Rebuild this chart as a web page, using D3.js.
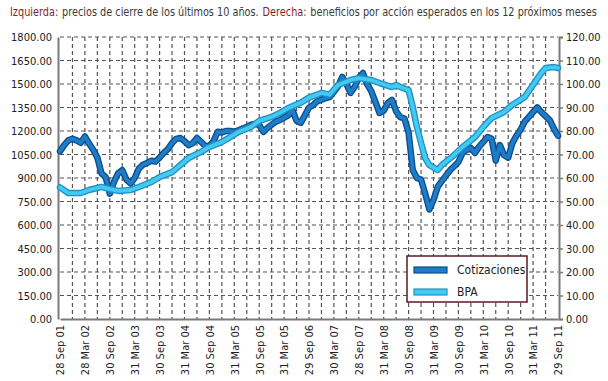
<!DOCTYPE html>
<html><head><meta charset="utf-8">
<script src="https://cdn.jsdelivr.net/npm/d3@7"></script>
<style>
html,body{margin:0;padding:0;background:#fff;}
svg{display:block;}
text{font-family:"DejaVu Sans Condensed","DejaVu Sans",sans-serif;}
</style></head>
<body>
<script>
// ---- data ----
const xLabels = ["28 Sep 01","28 Mar 02","30 Sep 02","31 Mar 03","30 Sep 03","31 Mar 04","30 Sep 04","31 Mar 05","30 Sep 05","31 Mar 05","29 Sep 06","30 Mar 07","28 Sep 07","31 Mar 08","30 Sep 08","31 Mar 09","30 Sep 09","31 Mar 10","30 Sep 10","31 Mar 11","29 Sep 11"];
const leftTicks = [0,150,300,450,600,750,900,1050,1200,1350,1500,1650,1800];
const rightTicks = [0,10,20,30,40,50,60,70,80,90,100,110,120];
// Cotizaciones: monthly closes, Sep 2001 .. Sep 2011 (left axis)
const cotizaciones = [1070,1110,1140,1150,1140,1125,1165,1120,1080,1030,
  930,905,800,875,930,950,890,865,900,960,
  985,996,1010,1005,1030,1060,1085,1123,1150,1155,
  1135,1110,1123,1155,1130,1105,1105,1135,1195,1190,
  1200,1200,1195,1205,1215,1225,1240,1245,1238,1194,
  1220,1240,1260,1270,1285,1300,1334,1265,1252,1300,
  1350,1365,1390,1400,1410,1417,1450,1485,1545,1500,
  1443,1481,1540,1570,1500,1455,1385,1315,1330,1379,
  1398,1325,1289,1280,1190,951,900,890,800,700,
  760,843,880,915,950,975,1002,1060,1079,1091,
  1060,1100,1130,1162,1150,1010,1110,1045,1030,1123,
  1170,1210,1260,1290,1321,1350,1320,1295,1270,1215,1170];
// BPA: expected EPS (right axis), month offsets from Sep 2001
const bpaMonths = [0,2,5,7,10,12,14,17,19,22,24,27,29,31,34,36,39,41,43,46,48,51,53,55,58,60,63,65,67,70,72,75,77,80,81,82,84,85,86,87,88,89,91,92,95,97,100,102,104,107,109,112,114,116,117,119,120];
const bpaValues = [56,53.6,53.6,54.9,56.2,55.3,54.5,54.9,56.2,58.3,60.4,62.5,65.5,68.5,71.1,73.2,75.3,77.4,79.6,81.7,84.3,86,87.7,89.8,92,94.2,96.2,95.5,99.6,101.7,102.5,101.7,100.4,98.7,99.6,98.7,97.4,90.2,81.7,74.9,68.5,65.5,63.4,65.5,69.8,73.2,77.4,81.7,85.5,88.1,91.1,94.5,99.6,104.7,106.8,107.2,106.8];
const seriesNames = ["Cotizaciones","BPA"];
const titleParts = ["Izquierda:","precios de cierre de los últimos 10 años.","Derecha:","beneficios por acción esperados en los 12 próximos meses"];

// ---- layout ----
const W=608,H=381;
const L=60,R=558,T=37,B=319;
const svg=d3.select("body").append("svg").attr("width",W).attr("height",H);

const x=d3.scaleLinear().domain([0,120]).range([L,R]);
const yL=d3.scaleLinear().domain([0,1800]).range([B,T]);
const yR=d3.scaleLinear().domain([0,120]).range([B,T]);

// title: four pieces laid out naturally, then the group is squeezed horizontally to fit 10..597
const tColors=["#8a1d2c","#3a3a3a","#8a1d2c","#3a3a3a"];
const tg=svg.append("g");
const gap=4;
let cx=0;
titleParts.forEach((t,i)=>{
  const e=tg.append("text").attr("x",cx).attr("y",16).attr("font-size",11.5).attr("fill",tColors[i]).text(t);
  cx+=e.node().getComputedTextLength()+gap;
});
const totalW=cx-gap;
const k=Math.min(1,587/totalW);
tg.attr("transform",`translate(10,0) scale(${k},1)`);

// grid
const grid=svg.append("g").attr("stroke","#555").attr("stroke-width",1.2).attr("stroke-dasharray","4,3");
grid.selectAll("line.h").data(leftTicks.slice(1)).join("line")
  .attr("x1",L).attr("x2",R).attr("y1",d=>yL(d)).attr("y2",d=>yL(d));
grid.selectAll("line.v").data(d3.range(3,120,3)).join("line")
  .attr("y1",T).attr("y2",B).attr("x1",d=>x(d)).attr("x2",d=>x(d));

// axes
const axL=svg.append("g").attr("transform",`translate(${L-2},0)`)
  .call(d3.axisLeft(yL).tickValues(leftTicks).tickFormat(d3.format(".2f")).tickSize(0).tickPadding(6));
const axR=svg.append("g").attr("transform",`translate(${R+1},0)`)
  .call(d3.axisRight(yR).tickValues(rightTicks).tickFormat(d3.format(".2f")).tickSize(4).tickPadding(3));
const axB=svg.append("g").attr("transform",`translate(0,${B})`)
  .call(d3.axisBottom(x).tickValues(d3.range(0,121,6)).tickFormat((d,i)=>xLabels[i]).tickSize(0));
[axL,axR,axB].forEach(a=>{
  a.select(".domain").attr("stroke","#7a7a7a").attr("stroke-width",2);
  a.selectAll(".tick line").attr("stroke","#7a7a7a").attr("stroke-width",1.5);
  a.selectAll("text").attr("font-size",11).attr("fill","#222")
   .attr("font-family","'DejaVu Sans Condensed','DejaVu Sans',sans-serif");
});
axB.selectAll(".tick text").attr("transform","rotate(-90)")
  .attr("text-anchor","end").attr("x",-6).attr("y",0).attr("dy","0.35em");

// lines
const lineC=d3.line().x((d,i)=>x(i)).y(d=>yL(d));
const lineB=d3.line().x((d,i)=>x(bpaMonths[i])).y(d=>yR(d));
const styles=[{dark:"#0b4f8e",main:"#1f7cc6"},{dark:"#1c93c6",main:"#45c9f1"}];
function drawLine(path,st){
  svg.append("path").attr("d",path).attr("fill","none").attr("stroke",st.dark)
    .attr("stroke-width",6.5).attr("stroke-linejoin","round").attr("stroke-linecap","round");
  svg.append("path").attr("d",path).attr("fill","none").attr("stroke",st.main)
    .attr("stroke-width",3.8).attr("stroke-linejoin","round").attr("stroke-linecap","round");
}
drawLine(lineC(cotizaciones),styles[0]);
drawLine(lineB(bpaValues),styles[1]);

// legend
const lg=svg.append("g");
lg.append("rect").attr("x",407).attr("y",256).attr("width",120).attr("height",46)
  .attr("fill","#fff").attr("stroke","#5a1a24").attr("stroke-width",1.5);
seriesNames.forEach((n,i)=>{
  const yy=270+i*22;
  lg.append("rect").attr("x",414).attr("y",yy-3).attr("width",33).attr("height",6)
    .attr("fill",styles[i].main).attr("stroke",styles[i].dark).attr("stroke-width",1.2);
  lg.append("text").attr("x",457).attr("y",yy+4).attr("font-size",12).attr("fill","#222").text(n);
});
</script>
</body></html>
